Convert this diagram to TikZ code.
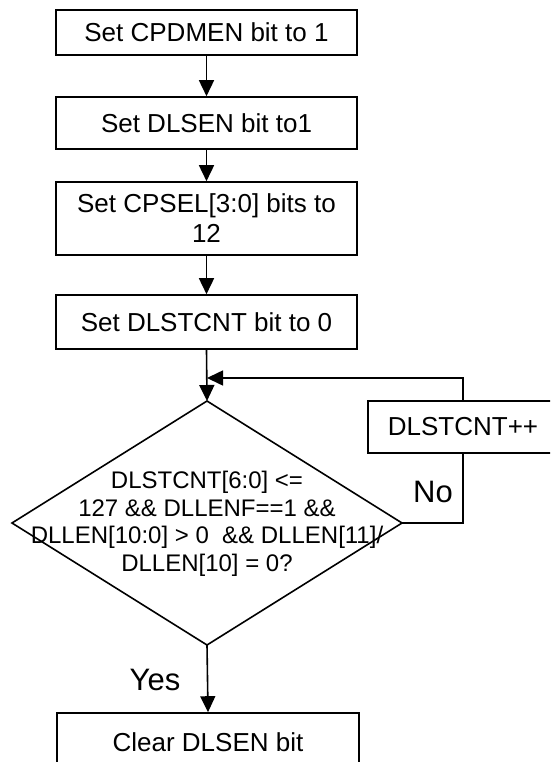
\documentclass[tikz,border=0pt]{standalone}
\usepackage{fontspec}
\setmainfont{Liberation Sans}
\usetikzlibrary{arrows.meta}
\begin{document}
\begin{tikzpicture}[x=1pt,y=-1pt,
  box/.style={draw,line width=1.6pt,rectangle,inner sep=0pt,align=center,font=\fontsize{26}{30}\selectfont},
  arr/.style={line width=1.6pt,-{Triangle[length=16pt,width=15pt]}},
  ln/.style={line width=1.6pt},
  lbl/.style={font=\fontsize{31}{35}\selectfont,inner sep=0pt}]
\useasboundingbox (0,0) rectangle (550,762);
\clip (0,0) rectangle (550,762);
\fill[white] (0,0) rectangle (550,762);
\node[box,minimum width=301,minimum height=45] (b1) at (206.5,32.5) {Set CPDMEN bit to 1};
\node[box,minimum width=301,minimum height=52] (b2) at (206.5,123) {Set DLSEN bit to1};
\node[box,minimum width=301,minimum height=73] (b3) at (206.5,218.5) {Set CPSEL[3:0] bits to\\12};
\node[box,minimum width=301,minimum height=54] (b4) at (206.5,322) {Set DLSTCNT bit to 0};
\coordinate (dtop) at (207,401);
\coordinate (dbot) at (207,645);
\coordinate (dleft) at (12,523);
\coordinate (dright) at (402,523);
\draw[ln,line join=miter] (dtop) -- (dright) -- (dbot) -- (dleft) -- cycle;
\node[align=center,inner sep=0pt,font=\fontsize{24}{27.5}\selectfont] (dec) at (207,524)
  {DLSTCNT[6:0] <=\\127 \&\& DLLENF==1 \&\&\\DLLEN[10:0] > 0\ \ \&\& DLLEN[11]/\\DLLEN[10] = 0?};
\node[box,minimum width=190,minimum height=52] (inc) at (463,427) {DLSTCNT++};
\node[box,minimum width=302,minimum height=58] (clr) at (208,742) {Clear DLSEN bit};
\coordinate (join) at (207,378);
\draw[arr] (b1.south) -- (b2.north);
\draw[arr] (b2.south) -- (b3.north);
\draw[arr] (b3.south) -- (b4.north);
\draw[arr] (b4.south) -- (dtop);
\draw[arr] (inc.north) |- (join);
\draw[ln] (inc.south) |- (dright);
\draw[arr] (dbot) -- (clr.north);
\node[lbl] (no) at (433,492) {No};
\node[lbl] (yes) at (155,680) {Yes};
\end{tikzpicture}
\end{document}
